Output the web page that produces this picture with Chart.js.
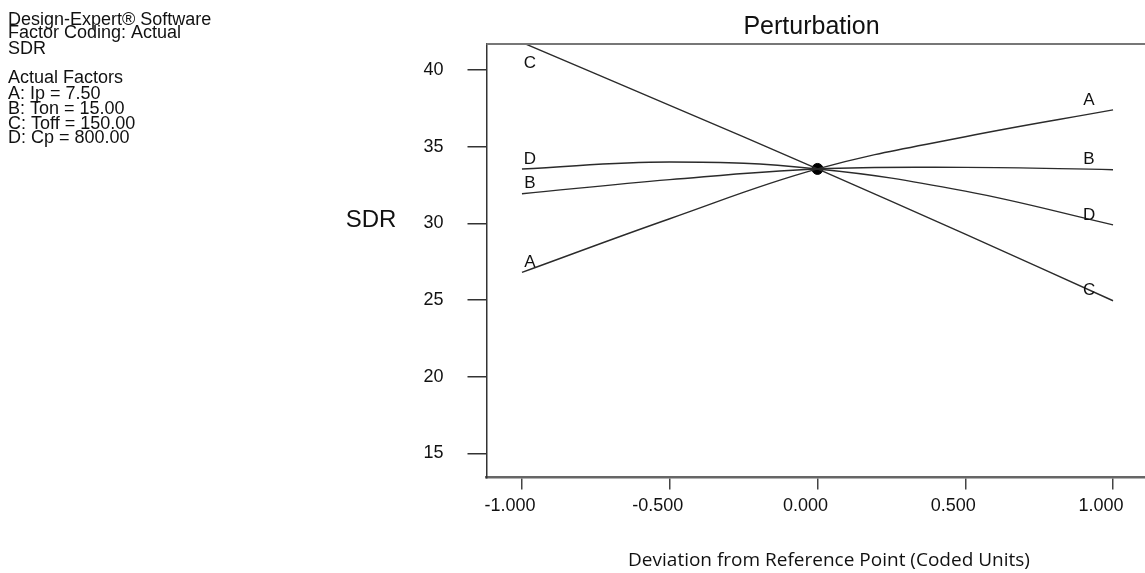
<!DOCTYPE html>
<html>
<head>
<meta charset="utf-8">
<script src="https://cdn.jsdelivr.net/npm/chart.js@4"></script>
<style>
  html, body { margin: 0; padding: 0; background: #fff; overflow: hidden; }
  #wrap { position: relative; width: 1145px; height: 573px; overflow: hidden; }
  canvas { position: absolute; left: 0; top: 0; }
</style>
</head>
<body>
<div id="wrap"><canvas id="myChart" width="1155" height="573"></canvas></div>
<script>
'use strict';

// ***** DATA *****
const xDeviation = [-1, -0.5, 0, 0.5, 1];
const factorNames = ['A', 'B', 'C', 'D'];
const sdrA = [26.8, 30.3, 33.55, 35.65, 37.4];
const sdrB = [31.93, 32.85, 33.55, 33.65, 33.5];
const sdrC = [41.8, 37.7, 33.55, 29.3, 24.95];
const sdrD = [33.55, 34.0, 33.55, 32.1, 29.9];
const refPoint = [0, 33.55];
const xTicks = [-1, -0.5, 0, 0.5, 1];
const yTicks = [15, 20, 25, 30, 35, 40];

const infoLines = [
  'Design-Expert® Software',
  'Factor Coding: Actual',
  'SDR',
  'Actual Factors',
  'A: Ip = 7.50',
  'B: Ton = 15.00',
  'C: Toff = 150.00',
  'D: Cp = 800.00'
];
const infoBaselines = [25, 38, 54, 83, 99, 114, 129, 143];

const ctx = document.getElementById('myChart').getContext('2d');
const lineColor = '#2b2b2b';

function toPoints(ys) {
  let pts = [];
  for (let i = 0; i < xDeviation.length; i++) {
    pts.push({ x: xDeviation[i], y: ys[i] });
  }
  return pts;
}

const seriesList = [sdrA, sdrB, sdrC, sdrD];
const datasets = [];
for (let i = 0; i < seriesList.length; i++) {
  datasets.push({
    label: factorNames[i],
    data: toPoints(seriesList[i]),
    borderColor: lineColor,
    borderWidth: 1.4,
    pointRadius: 0,
    tension: 0.4,
    fill: false
  });
}
datasets.push({
  label: 'ref',
  data: [{ x: refPoint[0], y: refPoint[1] }],
  showLine: false,
  pointRadius: 5.5,
  pointBackgroundColor: '#000',
  pointBorderColor: '#000'
});

// text drawn around the plot: title, axis titles, info block, curve letters
const textPlugin = {
  id: 'textPlugin',
  afterDraw(chart) {
    const c = chart.ctx;
    const area = chart.chartArea;
    const xs = chart.scales.x;
    const ys = chart.scales.y;
    c.save();
    // top border of the frame
    c.strokeStyle = '#777';
    c.lineWidth = 2;
    c.beginPath();
    c.moveTo(area.left, area.top);
    c.lineTo(area.right, area.top);
    c.stroke();

    c.fillStyle = '#111';
    c.textAlign = 'left';
    c.textBaseline = 'alphabetic';
    c.font = '18px "Liberation Sans", Arial, sans-serif';
    for (let i = 0; i < infoLines.length; i++) {
      c.fillText(infoLines[i], 8, infoBaselines[i]);
    }

    c.textAlign = 'center';
    c.textBaseline = 'middle';
    c.font = '25px "Liberation Sans", Arial, sans-serif';
    c.fillText('Perturbation', (area.left + area.right) / 2 - 6, 27);

    c.font = '24px "Liberation Sans", Arial, sans-serif';
    c.fillText('SDR', 371, 220);

    c.font = '19px "Open Sans", sans-serif';
    c.fillText('Deviation from Reference Point (Coded Units)', 829, 561);

    // curve letters at both ends
    c.font = '17px "Liberation Sans", Arial, sans-serif';
    const last = xDeviation.length - 1;
    for (let i = 0; i < seriesList.length; i++) {
      let yl = ys.getPixelForValue(seriesList[i][0]);
      if (yl < area.top) {
        yl = area.top + 19;
      } else {
        yl = yl - 10;
      }
      c.fillText(factorNames[i], xs.getPixelForValue(xDeviation[0]) + 8, yl);
      const yr = ys.getPixelForValue(seriesList[i][last]) - 10;
      c.fillText(factorNames[i], xs.getPixelForValue(xDeviation[last]) - 24, yr);
    }
    c.restore();
  }
};

const chartObj = {
  type: 'line',
  data: { datasets: datasets },
  options: {
    responsive: false,
    animation: false,
    devicePixelRatio: 1,
    layout: { padding: { top: 44, right: 6, bottom: 0, left: 0 } },
    plugins: {
      legend: { display: false },
      title: { display: false },
      tooltip: { enabled: false }
    },
    scales: {
      x: {
        type: 'linear',
        min: -1.12,
        max: 1.12,
        afterFit(scale) { scale.height = 95.5; },
        afterBuildTicks(scale) {
          scale.ticks = xTicks.map(v => ({ value: v }));
        },
        ticks: {
          color: '#111',
          padding: 6,
          labelOffset: -12,
          maxRotation: 0,
          autoSkip: false,
          font: { family: '"Liberation Sans", Arial, sans-serif', size: 18 },
          callback: v => Number(v).toFixed(3)
        },
        grid: {
          drawOnChartArea: false,
          drawTicks: true,
          tickLength: 12,
          color: '#444',
          lineWidth: 1.5
        },
        border: { display: true, color: '#666', width: 2.5 }
      },
      y: {
        type: 'linear',
        min: 13.42,
        max: 41.7,
        afterFit(scale) { scale.width = 486.5; },
        afterBuildTicks(scale) {
          scale.ticks = yTicks.map(v => ({ value: v }));
        },
        ticks: {
          color: '#111',
          padding: 24,
          autoSkip: false,
          font: { family: '"Liberation Sans", Arial, sans-serif', size: 18 }
        },
        grid: {
          drawOnChartArea: false,
          drawTicks: true,
          tickLength: 19,
          color: '#333',
          lineWidth: 1.5
        },
        border: { display: true, color: '#333', width: 1.5 }
      }
    }
  },
  plugins: [textPlugin]
};

const myChart = new Chart(ctx, chartObj);
</script>
</body>
</html>
